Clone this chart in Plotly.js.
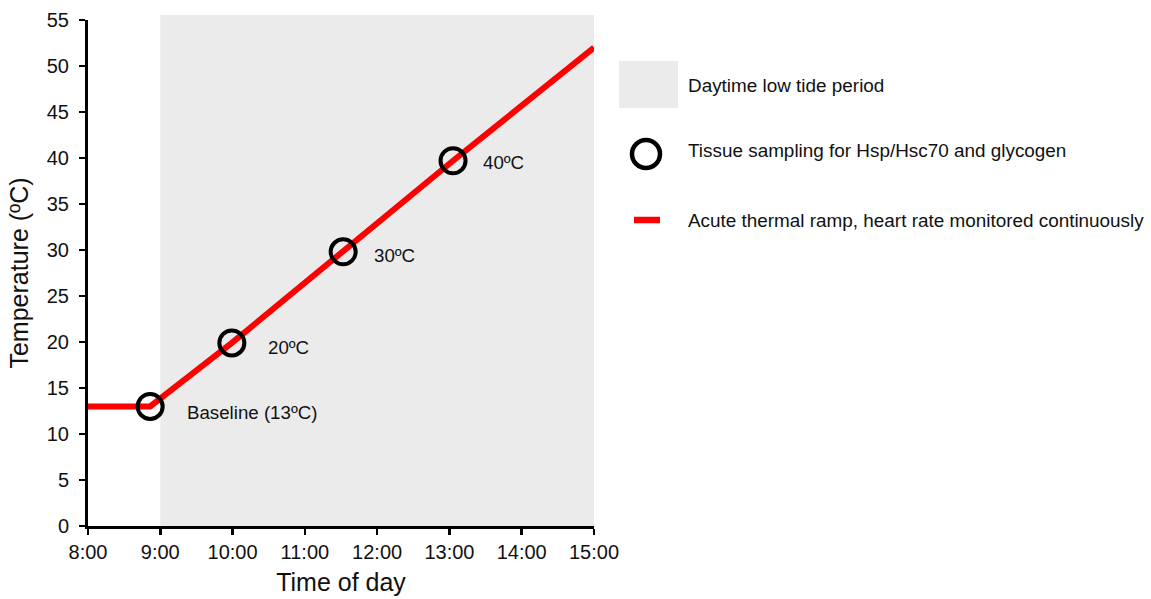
<!DOCTYPE html>
<html>
<head>
<meta charset="utf-8">
<script src="https://cdn.plot.ly/plotly-3.0.1.min.js"></script>
<style>html,body{margin:0;padding:0;background:#fff;}#chart{width:1151px;height:599px;}</style>
</head>
<body>
<div id="chart"></div>
<script>
// Time of day in decimal hours
var rampTime = [8.0, 8.86, 9.99, 11.53, 13.05, 15.0];
var rampTemp = [13, 13, 19.9, 29.8, 39.7, 52.0];

var sampleTime = [8.86, 9.99, 11.53, 13.05];
var sampleTemp = [13, 19.9, 29.8, 39.7];
var sampleLabels = ["Baseline (13ºC)", "20ºC", "30ºC", "40ºC"];

var lowTideStart = 9;
var lowTideEnd = 15;

var xTickVals = [8, 9, 10, 11, 12, 13, 14, 15];
var xTickText = ["8:00", "9:00", "10:00", "11:00", "12:00", "13:00", "14:00", "15:00"];
var yTickVals = [0, 5, 10, 15, 20, 25, 30, 35, 40, 45, 50, 55];

var legendLabels = ["Daytime low tide period",
  "Tissue sampling for Hsp/Hsc70 and glycogen",
  "Acute thermal ramp, heart rate monitored continuously"];

var FONT = "Liberation Sans, Arial, Helvetica, sans-serif";
var TXT = "#111111";
var GREY = "#ebebeb";
var RED = "#ff0000";

var traces = [
  {x: rampTime, y: rampTemp, mode: "lines", type: "scatter",
   line: {color: RED, width: 6}, hoverinfo: "skip", showlegend: false},
  {x: sampleTime, y: sampleTemp, mode: "markers", type: "scatter",
   marker: {symbol: "circle", size: 25, color: "rgba(0,0,0,0)", line: {color: "#000", width: 4}},
   showlegend: false, cliponaxis: false}
];

var labelShiftX = [35, 34, 29, 28];
var labelShiftY = [-6, -5, -4, -2];
var annotations = sampleLabels.map(function (t, i) {
  return {x: sampleTime[i], y: sampleTemp[i], xref: "x", yref: "y", text: t,
    showarrow: false, xanchor: "left", yanchor: "middle",
    xshift: labelShiftX[i], yshift: labelShiftY[i],
    font: {family: FONT, size: 18.7, color: TXT}};
});

// custom legend (paper coords)
function px2x(p) { return (p - 88) / 506; }
function py2y(p) { return (526 - p) / 506; }
var legendY = [85, 151, 220];
legendLabels.forEach(function (t, i) {
  annotations.push({x: px2x(686), y: py2y(legendY[i]), xref: "paper", yref: "paper", text: t,
    showarrow: false, xanchor: "left", yanchor: "middle",
    font: {family: FONT, size: 18.9, color: TXT}});
});

var shapes = [
  {type: "rect", xref: "x", yref: "paper", x0: lowTideStart, x1: lowTideEnd, y0: 0, y1: py2y(15),
   fillcolor: GREY, line: {width: 0}, layer: "below"},
  {type: "rect", xref: "paper", yref: "paper", x0: px2x(619), x1: px2x(678), y0: py2y(108), y1: py2y(61),
   fillcolor: GREY, line: {width: 0}, layer: "below"},
  {type: "circle", xref: "paper", yref: "paper", x0: px2x(632), x1: px2x(660), y0: py2y(168), y1: py2y(140),
   fillcolor: "rgba(0,0,0,0)", line: {color: "#000", width: 4.5}},
  {type: "line", xref: "paper", yref: "paper", x0: px2x(634), x1: px2x(660), y0: py2y(220), y1: py2y(220),
   line: {color: RED, width: 6.5}}
];

var layout = {
  width: 1151, height: 599,
  margin: {l: 88, r: 557, t: 20, b: 73},
  paper_bgcolor: "#fff", plot_bgcolor: "rgba(0,0,0,0)",
  font: {family: FONT, color: TXT},
  showlegend: false,
  xaxis: {range: [8, 15], tickvals: xTickVals, ticktext: xTickText,
    showgrid: false, zeroline: false, showline: true, linecolor: "#000", linewidth: 3,
    ticks: "outside", ticklen: 6, tickwidth: 2.5, tickcolor: "#000",
    tickfont: {family: FONT, size: 20, color: TXT},
    title: {text: "Time of day", font: {family: FONT, size: 25, color: TXT}, standoff: 12},
    automargin: false, fixedrange: true},
  yaxis: {range: [0, 55], tickvals: yTickVals,
    showgrid: false, zeroline: false, showline: true, linecolor: "#000", linewidth: 3,
    ticks: "outside", ticklen: 6, tickwidth: 2.5, tickcolor: "#000",
    ticklabelstandoff: 6,
    tickfont: {family: FONT, size: 20, color: TXT},
    title: {text: "Temperature (ºC)", font: {family: FONT, size: 25, color: TXT}, standoff: 12},
    automargin: false, fixedrange: true},
  shapes: shapes,
  annotations: annotations
};

Plotly.newPlot("chart", traces, layout, {displayModeBar: false, staticPlot: true});
</script>
</body>
</html>
